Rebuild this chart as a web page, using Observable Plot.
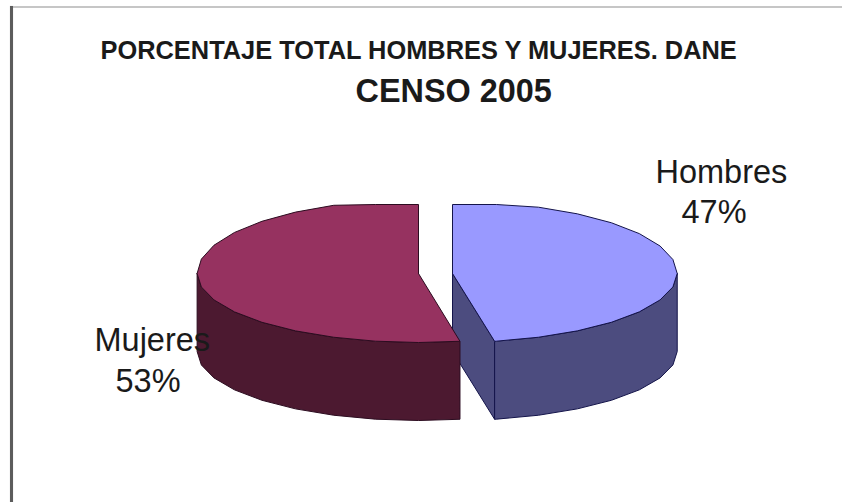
<!DOCTYPE html>
<html>
<head>
<meta charset="utf-8">
<script src="https://cdn.jsdelivr.net/npm/d3@7"></script>
<script src="https://cdn.jsdelivr.net/npm/@observablehq/plot@0.6"></script>
<style>
  html, body { margin: 0; background: #fff; }
  #page { position: relative; width: 842px; height: 502px; overflow: hidden; }
  #page svg { position: absolute; left: 0; top: 0; }
  #page svg text { font-family: "Liberation Sans", Arial, sans-serif; }
  .edge-top { position: absolute; left: 10px; right: 0; top: 6px; height: 2px; background: #c6c6c6; }
  .edge-left { position: absolute; left: 10px; top: 6px; bottom: 0; width: 3px; background: #5c5c5c; box-shadow: 0 0 1px #aaa; }
</style>
</head>
<body>
<div id="page"><div class="edge-top"></div><div class="edge-left"></div></div>
<script>
// Census shares by sex
const categories = ["Hombres", "Mujeres"];
const shares = [47, 53];
const titleLine = "PORCENTAJE TOTAL HOMBRES Y MUJERES. DANE";
const subtitleLine = "CENSO 2005";

// Pie dimensions, in pixels on the page
const W = 842, H = 502;
const cx = 435, cy = 273, rx = 222.5, ry = 69;
const explode = 17 / rx;   // sideways pull of each slice, in radii
const depth = 78 / ry;     // wall height, in vertical radii
const stepDeg = 11.25;     // the rim is a coarse polygon

const rad = d => d * Math.PI / 180;
const total = d3.sum(shares);
const sweepH = shares[0] / total * 360;
const sweepM = shares[1] / total * 360;

// Each slice: sideways offset, radius factor, and how far the back rim
// bulges before it flattens out along the top edge
const sliceH = { offset: explode, spread: 1.01, rise: 1.04 };
const sliceM = { offset: -explode, spread: 0.995, rise: 1.07 };

// Rim points for a slice; angles run clockwise from the back of the pie
function rim(slice, from, to, drop = 0) {
  const dir = to >= from ? 1 : -1;
  const n = Math.ceil(Math.abs(to - from) / stepDeg);
  return d3.range(n + 1).map(i => {
    const a = i === n ? to : from + dir * i * stepDeg;
    const c = Math.cos(rad(a));
    return {
      x: slice.offset + slice.spread * Math.sin(rad(a)),
      y: (c > 0 ? Math.min(1, c * slice.rise) : c) - drop
    };
  });
}
const apex = (slice, drop = 0) => ({ x: slice.offset, y: -drop });
const closed = pts => [...pts, pts[0]];
const wall = (slice, from, to) =>
  closed([...rim(slice, from, to), ...rim(slice, from, to, depth).reverse()]);

const colours = {
  Hombres: { top: "#9999ff", side: "#4c4c7f", line: "#14144a" },
  Mujeres: { top: "#963260", side: "#4c1930", line: "#2c0c20" }
};

const face = (pts, fill, stroke) =>
  Plot.line(pts, { x: "x", y: "y", fill, stroke, strokeWidth: 1, curve: "linear", strokeLinejoin: "round" });

const cH = colours[categories[0]], cM = colours[categories[1]];
const endH = rim(sliceH, sweepH, sweepH)[0];

const label = (text, left, top, size, weight) =>
  Plot.text([text], {
    text: d => d, frameAnchor: "top-left", textAnchor: "start", lineAnchor: "top",
    dx: left, dy: top, fontSize: size, fontWeight: weight, fill: "#1a1a1a"
  });

const chart = Plot.plot({
  width: W, height: H,
  marginTop: 0, marginRight: 0, marginBottom: 0, marginLeft: 0,
  x: { domain: [-cx / rx, (W - cx) / rx], range: [0, W], axis: null },
  y: { domain: [cy / ry, (cy - H) / ry], range: [0, H], axis: null },
  marks: [
    // Hombres: cut wall, outer wall, top face
    face(closed([apex(sliceH), endH, { x: endH.x, y: endH.y - depth }, apex(sliceH, depth)]), cH.side, cH.line),
    face(wall(sliceH, 90, sweepH), cH.side, cH.line),
    face(closed([apex(sliceH), ...rim(sliceH, 0, sweepH)]), cH.top, cH.line),
    // Mujeres: outer wall, then top face
    face(wall(sliceM, -90, -sweepM), cM.side, cM.line),
    face(closed([apex(sliceM), ...rim(sliceM, 0, -sweepM)]), cM.top, cM.line),
    // Headings and slice labels
    label(titleLine, 100, 40, 25.4, "bold"),
    label(subtitleLine, 355, 78, 32.4, "bold"),
    label(categories[0], 655, 159, 32.5, "normal"),
    label(`${shares[0]}%`, 681, 199.5, 32.5, "normal"),
    label(categories[1], 94, 327, 32.5, "normal"),
    label(`${shares[1]}%`, 115, 368.5, 32.5, "normal")
  ]
});
document.getElementById("page").appendChild(chart);
</script>
</body>
</html>
